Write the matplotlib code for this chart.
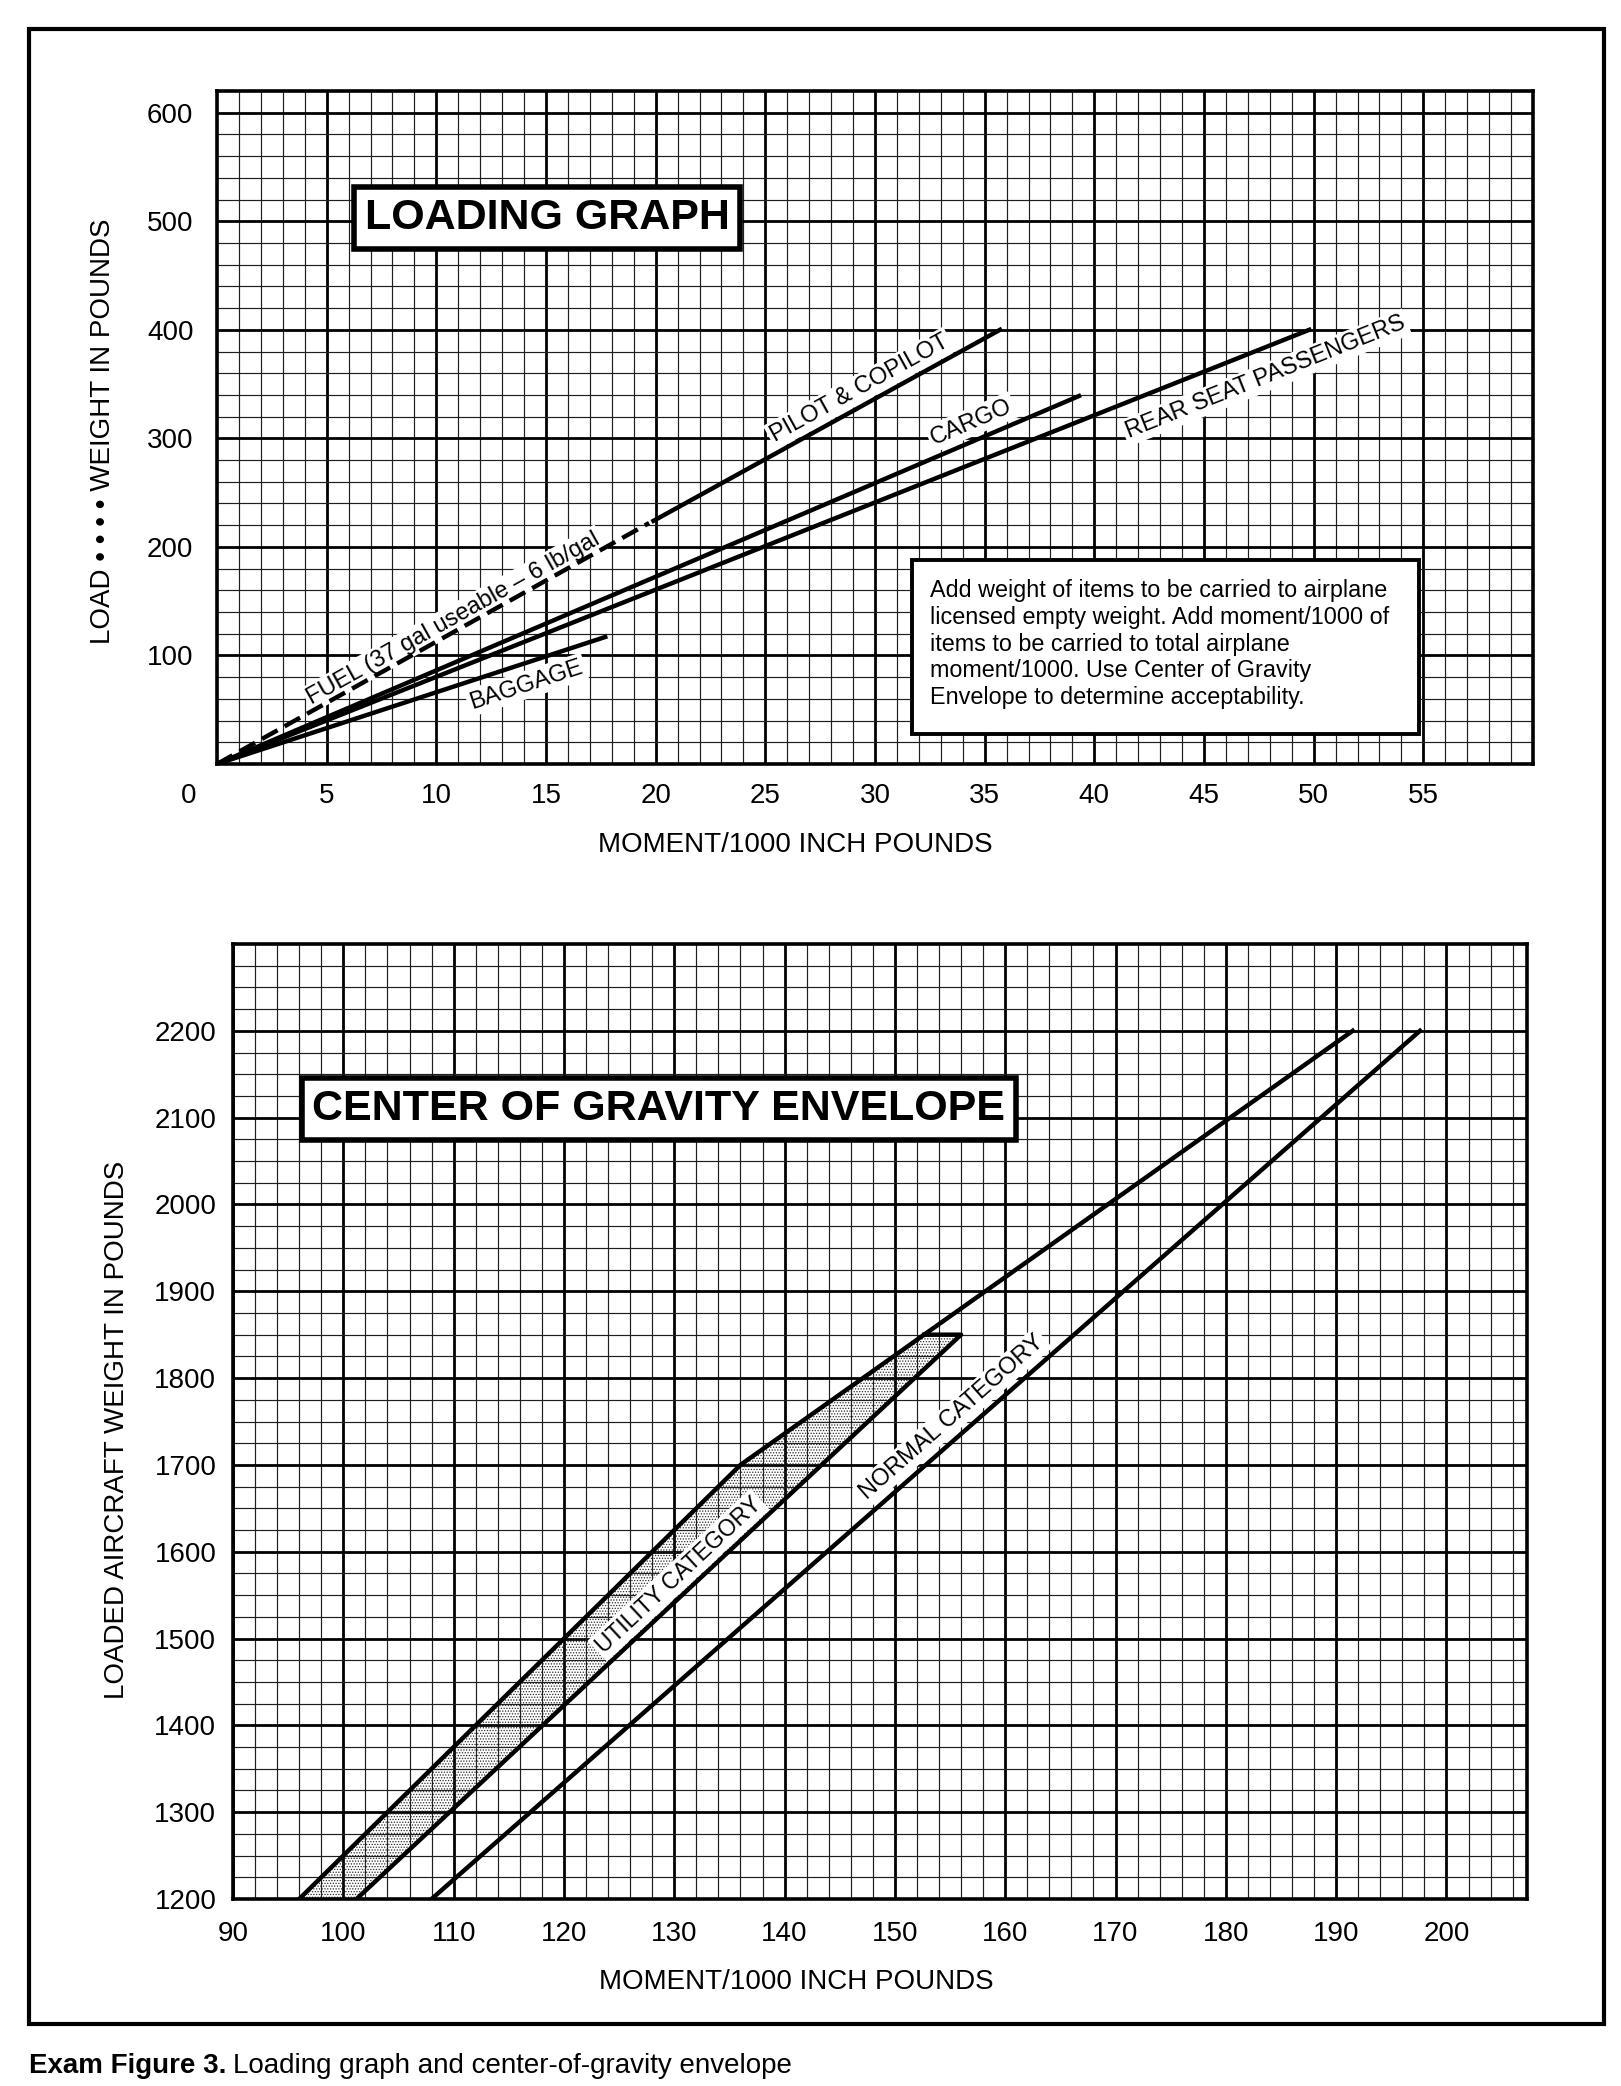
import numpy as np
import matplotlib
matplotlib.use("Agg")
import matplotlib.pyplot as plt
from matplotlib.ticker import MultipleLocator
from matplotlib.patches import Rectangle, Polygon

plt.rcParams['font.family'] = ['Liberation Sans', 'DejaVu Sans']
plt.rcParams['hatch.linewidth'] = 0.6

W, H = 1621, 2086

####################################
#   loading graph data (moment/1000 in-lb , weight lb)
####################################
fuel_moment = [0, 19.7]
fuel_weight = [0, 222]
pilot_moment = [19.9, 35.7]
pilot_weight = [224, 400]
cargo_moment = [0, 39.3]
cargo_weight = [0, 339]
rear_moment = [0, 49.8]
rear_weight = [0, 400]
baggage_moment = [0, 17.7]
baggage_weight = [0, 117]

load_xticks = [5, 10, 15, 20, 25, 30, 35, 40, 45, 50, 55]
load_yticks = [100, 200, 300, 400, 500, 600]

####################################
#   center of gravity envelope data
####################################
fwd_moment = [96.0, 136.0, 191.5]
fwd_weight = [1200, 1700, 2200]
aft_moment = [108.0, 197.6]
aft_weight = [1200, 2200]
util_moment = [96.0, 136.0, 152.65, 156.0, 101.2]
util_weight = [1200, 1700, 1850, 1850, 1200]
util_aft_moment = [101.2, 156.0]
util_aft_weight = [1200, 1850]

cg_xticks = [90, 100, 110, 120, 130, 140, 150, 160, 170, 180, 190, 200]
cg_yticks = [1200, 1300, 1400, 1500, 1600, 1700, 1800, 1900, 2000, 2100, 2200]

note = ("Add weight of items to be carried to airplane\n"
        "licensed empty weight. Add moment/1000 of\n"
        "items to be carried to total airplane\n"
        "moment/1000. Use Center of Gravity\n"
        "Envelope to determine acceptability.")


def screen_angle(ax, xs, ys):
    p0 = ax.transData.transform((xs[0], ys[0]))
    p1 = ax.transData.transform((xs[-1], ys[-1]))
    return np.degrees(np.arctan2(p1[1] - p0[1], p1[0] - p0[0]))


def paper_grid(ax, xmaj, xmin, ymaj, ymin):
    ax.xaxis.set_major_locator(MultipleLocator(xmaj))
    ax.xaxis.set_minor_locator(MultipleLocator(xmin))
    ax.yaxis.set_major_locator(MultipleLocator(ymaj))
    ax.yaxis.set_minor_locator(MultipleLocator(ymin))
    ax.grid(which='major', color='black', lw=2.0)
    ax.grid(which='minor', color='#1e1e1e', lw=0.85)
    ax.set_axisbelow(True)
    ax.tick_params(which='both', length=0, labelsize=20)
    for s in ax.spines.values():
        s.set_linewidth(2.6)


def line_label(ax, text, x, y, xs, ys, size=17, z=3):
    ang = screen_angle(ax, xs, ys)
    ax.text(x, y, text, fontsize=size, rotation=ang, rotation_mode='anchor',
            ha='center', va='center', zorder=z,
            bbox=dict(boxstyle='square,pad=0.12', fc='white', ec='none'))


fig = plt.figure(figsize=(W / 100, H / 100), dpi=100)

####################################
#   loading graph
####################################
ax1 = fig.add_axes([217 / W, 1 - 764 / H, (1533 - 217) / W, (764 - 91) / H])
ax1.set_xlim(0, 60)
ax1.set_ylim(0, 620)
paper_grid(ax1, 5, 1, 100, 20)
ax1.set_xticks(load_xticks, [str(v) for v in load_xticks])
ax1.set_yticks(load_yticks, [str(v) for v in load_yticks])
ax1.tick_params(axis='x', pad=14)
ax1.tick_params(axis='y', pad=17)
ax1.annotate('0', xy=(0, 0), xytext=(-28, -32), textcoords='offset pixels',
             ha='center', va='center', fontsize=20, annotation_clip=False)

lw_line = 3.2
ax1.plot(fuel_moment, fuel_weight, color='black', lw=lw_line, ls=(0, (4, 1.8)),
         zorder=4, solid_capstyle='butt')
ax1.plot(pilot_moment, pilot_weight, color='black', lw=lw_line, zorder=4)
ax1.plot(cargo_moment, cargo_weight, color='black', lw=lw_line, zorder=4)
ax1.plot(rear_moment, rear_weight, color='black', lw=lw_line, zorder=4)
ax1.plot(baggage_moment, baggage_weight, color='black', lw=lw_line, zorder=4)

line_label(ax1, 'PILOT & COPILOT', 29.3, 346, pilot_moment, pilot_weight)
line_label(ax1, 'CARGO', 34.4, 315, cargo_moment, cargo_weight)
line_label(ax1, 'REAR SEAT PASSENGERS', 47.8, 356, rear_moment, rear_weight)
line_label(ax1, 'BAGGAGE', 14.1, 73, baggage_moment, baggage_weight)
line_label(ax1, 'FUEL (37 gal useable \u2013 6 lb/gal', 10.8, 134,
           fuel_moment, fuel_weight)

ax1.text(15.05, 503, 'LOADING GRAPH', fontsize=31, fontweight='bold',
         ha='center', va='center', zorder=6,
         bbox=dict(boxstyle='square,pad=0.25', fc='white', ec='black', lw=4))

ax1.add_patch(Rectangle((31.7, 27.5), 23.1, 160.5, fc='white', ec='black',
                        lw=2.8, zorder=6))
ax1.text(32.5, 170, note, fontsize=16.8, ha='left', va='top',
         linespacing=1.2, zorder=7)

####################################
#   center of gravity envelope
####################################
ax2 = fig.add_axes([233 / W, 1 - 1899 / H, (1527 - 233) / W, (1899 - 944) / H])
ax2.set_xlim(90, 207.3)
ax2.set_ylim(1200, 2300)
paper_grid(ax2, 10, 2, 100, 25)
ax2.set_xticks(cg_xticks, [str(v) for v in cg_xticks])
ax2.set_yticks(cg_yticks, [str(v) for v in cg_yticks])
ax2.tick_params(axis='x', pad=16)
ax2.tick_params(axis='y', pad=12)

util_xy = np.column_stack([util_moment, util_weight])
# dot stipple only, grid stays visible underneath
ax2.add_patch(Polygon(util_xy, closed=True, fc='none', ec='#2a2a2a',
                      hatch='......', lw=0, zorder=2))
ax2.plot(fwd_moment, fwd_weight, color='black', lw=lw_line, zorder=4)
ax2.plot(aft_moment, aft_weight, color='black', lw=lw_line, zorder=4)
ax2.plot(util_moment[2:], util_weight[2:], color='black', lw=lw_line, zorder=4)

line_label(ax2, 'UTILITY CATEGORY', 130.4, 1573, util_aft_moment,
           util_aft_weight, size=16.5)
line_label(ax2, 'NORMAL CATEGORY', 155.2, 1755, aft_moment, aft_weight,
           size=17)

ax2.text(128.6, 2110, 'CENTER OF GRAVITY ENVELOPE', fontsize=31,
         fontweight='bold', ha='center', va='center', zorder=6,
         bbox=dict(boxstyle='square,pad=0.25', fc='white', ec='black', lw=4))

####################################
#   axis titles, frame, caption
####################################
fig.text(795 / W, 1 - 845 / H, 'MOMENT/1000 INCH POUNDS', fontsize=20,
         ha='center', va='center')
fig.text(103 / W, 1 - 431 / H, 'LOAD \u2022 \u2022 \u2022 \u2022 WEIGHT IN POUNDS',
         fontsize=20, rotation=90, ha='center', va='center')
fig.text(796 / W, 1 - 1982 / H, 'MOMENT/1000 INCH POUNDS', fontsize=20,
         ha='center', va='center')
fig.text(117 / W, 1 - 1430 / H, 'LOADED AIRCRAFT WEIGHT IN POUNDS',
         fontsize=20, rotation=90, ha='center', va='center')

fig.add_artist(Rectangle((29 / W, 1 - 2024 / H), (1604 - 29) / W,
                         (2024 - 29) / H, transform=fig.transFigure,
                         fill=False, ec='black', lw=3))

t1 = fig.text(29 / W, 1 - 2066 / H, 'Exam Figure 3.', fontsize=20,
              fontweight='bold', ha='left', va='center')
r = fig.canvas.get_renderer()
bb = t1.get_window_extent(r)
fig.text((bb.x1 + 7) / W, 1 - 2066 / H,
         'Loading graph and center-of-gravity envelope', fontsize=20,
         ha='left', va='center')

fig.savefig('out.png', dpi=100)
